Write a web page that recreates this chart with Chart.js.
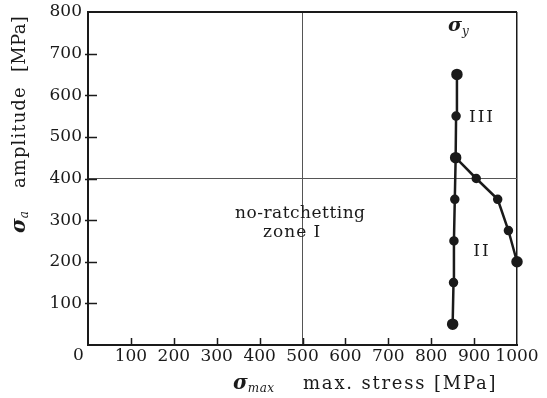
<!DOCTYPE html>
<html>
<head>
<meta charset="utf-8">
<script src="https://cdn.jsdelivr.net/npm/chart.js@4/dist/chart.umd.min.js"></script>
<style>
  html, body { margin: 0; background: #fff; }
  #wrap { width: 547px; height: 398px; position: relative; }
</style>
</head>
<body>
<div id="wrap"><canvas id="chart"></canvas></div>
<script>
// sigma_y line: yield limit of max. stress for each amplitude
const yieldStress = [850, 852, 853, 855, 857, 858, 860];
const yieldAmp = [50, 150, 250, 350, 450, 550, 650];
// boundary between zone II and zone III
const ratchetStress = [857, 905, 955, 980, 1000];
const ratchetAmp = [450, 400, 350, 275, 200];

const xTicks = [0, 100, 200, 300, 400, 500, 600, 700, 800, 900, 1000];
const yTicks = [0, 100, 200, 300, 400, 500, 600, 700, 800];

const SERIF = '"DejaVu Serif", "Liberation Serif", serif';
const INK = '#1a1a1a';

function toPoints(xs, ys) {
  return xs.map((x, i) => ({ x: x, y: ys[i] }));
}

// bigger dots at the ends of each line
function dotSize(ctx) {
  const n = ctx.dataset.data.length;
  return (ctx.dataIndex === 0 || ctx.dataIndex === n - 1) ? 4.5 : 3.5;
}

// draw a run of text pieces with their own fonts / baseline shifts
function drawRich(ctx, pieces, x, y) {
  let cx = x;
  pieces.forEach(p => {
    ctx.font = p.font;
    ctx.letterSpacing = (p.ls || 0) + 'px';
    ctx.fillText(p.t, cx, y + (p.dy || 0));
    cx += ctx.measureText(p.t).width + (p.gap || 0);
  });
  ctx.letterSpacing = '0px';
}

const decorations = {
  id: 'decorations',
  afterDraw(chart) {
    const ctx = chart.ctx;
    const xs = chart.scales.x, ys = chart.scales.y;
    const area = chart.chartArea;
    ctx.save();

    // inward tick marks
    ctx.strokeStyle = INK;
    ctx.lineWidth = 1.5;
    ctx.beginPath();
    xTicks.slice(1, -1).forEach(v => {
      const px = Math.round(xs.getPixelForValue(v)) + 0.5;
      ctx.moveTo(px, area.bottom);
      ctx.lineTo(px, area.bottom - 7);
    });
    yTicks.slice(1, -1).forEach(v => {
      const py = Math.round(ys.getPixelForValue(v)) + 0.5;
      ctx.moveTo(area.left - 3, py);
      ctx.lineTo(area.left + 9, py);
    });
    ctx.stroke();

    ctx.fillStyle = INK;
    ctx.textBaseline = 'alphabetic';
    ctx.textAlign = 'left';

    // shared origin label
    ctx.font = '17px ' + SERIF;
    ctx.fillText('0', 73, 360);

    // x axis title
    drawRich(ctx, [
      { t: 'σ', font: 'bold italic 20px ' + SERIF },
      { t: 'max', font: 'italic 12px ' + SERIF, dy: 3, ls: 0.5 }
    ], 233, 389);
    drawRich(ctx, [
      { t: 'max. stress [MPa]', font: '18px ' + SERIF, ls: 1.8 }
    ], 303, 389);

    // y axis title, rotated
    ctx.save();
    ctx.translate(25, 233);
    ctx.rotate(-Math.PI / 2);
    drawRich(ctx, [
      { t: 'σ', font: 'bold italic 20px ' + SERIF },
      { t: 'a', font: 'italic 12px ' + SERIF, dy: 3 }
    ], 0, 0);
    drawRich(ctx, [
      { t: 'amplitude', font: '18px ' + SERIF, ls: 1.1 }
    ], 45, 0);
    drawRich(ctx, [
      { t: '[MPa]', font: '18px ' + SERIF, ls: 0.3 }
    ], 161, 0);
    ctx.restore();

    // zone labels
    drawRich(ctx, [
      { t: 'σ', font: 'bold italic 19px ' + SERIF },
      { t: 'y', font: 'italic 12px ' + SERIF, dy: 4 }
    ], 448, 31);
    ctx.textAlign = 'center';
    ctx.textBaseline = 'middle';
    ctx.font = '17px ' + SERIF;
    ctx.letterSpacing = '2px';
    ctx.fillText('III', 482, 118);
    ctx.fillText('II', 482, 252);
    ctx.letterSpacing = '0px';
    ctx.textBaseline = 'alphabetic';
    ctx.textAlign = 'left';
    drawRich(ctx, [{ t: 'no-ratchetting', font: '17px ' + SERIF, ls: 0.5 }], 235, 218);
    drawRich(ctx, [{ t: 'zone I', font: '17px ' + SERIF, ls: 1 }], 263, 237);

    ctx.restore();
  }
};

new Chart(document.getElementById('chart'), {
  type: 'scatter',
  data: {
    datasets: [
      {
        label: 'sigma_y',
        data: toPoints(yieldStress, yieldAmp),
        showLine: true,
        borderColor: INK,
        backgroundColor: INK,
        borderWidth: 2.5,
        pointRadius: dotSize,
        clip: false
      },
      {
        label: 'II / III',
        data: toPoints(ratchetStress, ratchetAmp),
        showLine: true,
        borderColor: INK,
        backgroundColor: INK,
        borderWidth: 2.5,
        pointRadius: dotSize,
        clip: false
      }
    ]
  },
  options: {
    responsive: true,
    maintainAspectRatio: false,
    animation: false,
    layout: { padding: { top: 12, right: 30, left: 0, bottom: 0 } },
    plugins: { legend: { display: false }, tooltip: { enabled: false } },
    scales: {
      x: {
        type: 'linear',
        min: 0,
        max: 1000,
        afterBuildTicks: s => { s.ticks = xTicks.map(v => ({ value: v })); },
        afterFit: s => { s.height = 53; },
        grid: {
          drawTicks: false,
          color: c => c.tick && c.tick.value === 500 ? '#555' : (c.tick && c.tick.value === 1000 ? INK : 'transparent'),
          lineWidth: c => c.tick && c.tick.value === 1000 ? 1.5 : 1
        },
        border: { display: true, color: INK, width: 2 },
        ticks: {
          autoSkip: false,
          maxRotation: 0,
          padding: 3,
          color: INK,
          font: { family: SERIF, size: 17, lineHeight: 1 },
          callback: v => v === 0 ? '' : String(v)
        }
      },
      y: {
        type: 'linear',
        min: 0,
        max: 800,
        afterBuildTicks: s => { s.ticks = yTicks.map(v => ({ value: v })); },
        afterFit: s => { s.width = 88; s.paddingTop = 0; },
        grid: {
          drawTicks: false,
          color: c => c.tick && c.tick.value === 400 ? '#555' : (c.tick && c.tick.value === 800 ? INK : 'transparent'),
          lineWidth: c => c.tick && c.tick.value === 800 ? 2 : 1
        },
        border: { display: true, color: INK, width: 2 },
        ticks: {
          padding: 6,
          color: INK,
          font: { family: SERIF, size: 17, lineHeight: 1 },
          callback: v => v === 0 ? '' : String(v)
        }
      }
    }
  },
  plugins: [decorations]
});
</script>
</body>
</html>
